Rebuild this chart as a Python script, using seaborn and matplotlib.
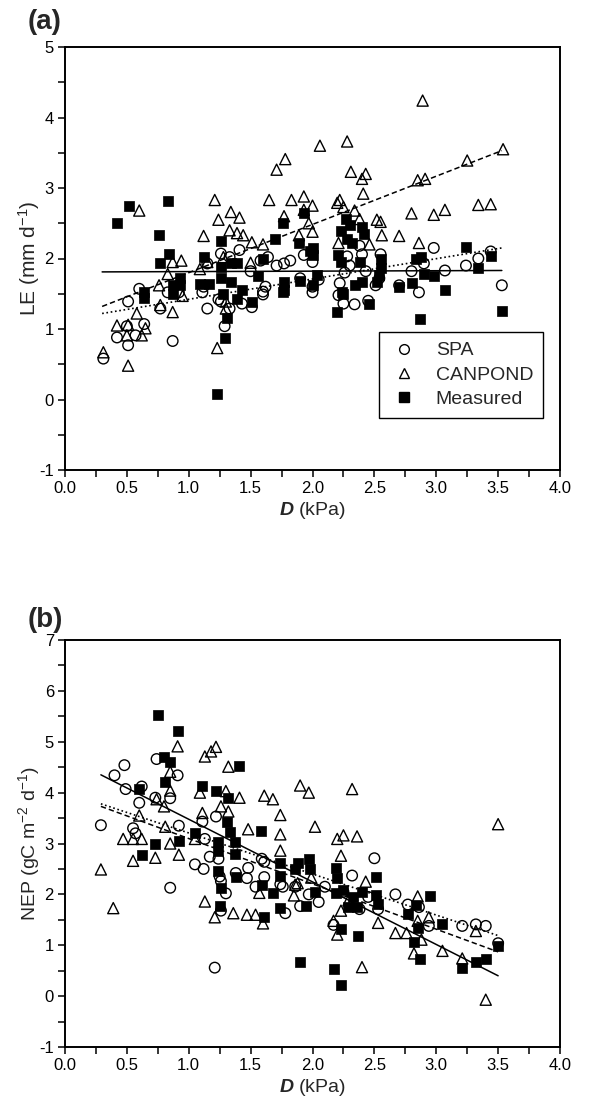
import numpy as np
import pandas as pd
import matplotlib
matplotlib.use("Agg")
import matplotlib.pyplot as plt
import seaborn as sns
from matplotlib.ticker import MultipleLocator, FormatStrFormatter
from matplotlib.lines import Line2D

# ---------------- data: panel (a) LE ----------------
spa_a_x = [0.31,0.42,0.50,0.51,0.51,0.57,0.60,0.64,0.77,0.83,0.87,0.92,1.11,1.12,1.15,1.15,1.24,1.26,1.26,1.29,
           1.33,1.33,1.41,1.43,1.50,1.51,1.58,1.60,1.60,1.62,1.64,1.71,1.77,1.82,1.90,1.93,2.00,2.00,2.00,2.05,
           2.21,2.22,2.25,2.26,2.28,2.30,2.34,2.38,2.40,2.43,2.45,2.51,2.54,2.55,2.70,2.80,2.86,2.90,2.98,3.07,
           3.24,3.34,3.44,3.53]
spa_a_y = [0.58,0.88,1.04,0.77,1.39,0.91,1.57,1.07,1.29,1.52,0.83,1.52,1.52,1.60,1.29,1.93,1.42,1.39,2.07,1.04,
           1.29,2.02,2.12,1.36,1.82,1.31,1.97,1.49,1.53,1.60,2.02,1.90,1.93,1.97,1.72,2.05,1.95,1.60,1.52,1.70,
           1.48,1.65,1.36,1.80,2.03,1.90,1.35,2.18,2.06,1.82,1.40,1.62,1.72,2.06,1.62,1.82,1.52,1.93,2.15,1.83,
           1.90,2.00,2.10,1.62]
can_a_x = [0.31,0.42,0.50,0.51,0.51,0.58,0.60,0.62,0.65,0.76,0.77,0.83,0.87,0.87,0.94,0.95,1.09,1.12,1.15,1.21,
           1.23,1.24,1.28,1.30,1.30,1.33,1.34,1.39,1.41,1.44,1.50,1.51,1.60,1.65,1.71,1.77,1.78,1.83,1.89,1.93,
           1.93,1.97,2.00,2.00,2.06,2.20,2.21,2.22,2.25,2.28,2.31,2.34,2.38,2.40,2.41,2.43,2.46,2.52,2.55,2.56,
           2.70,2.80,2.85,2.86,2.89,2.91,2.98,3.07,3.25,3.34,3.44,3.54]
can_a_y = [0.67,1.05,0.91,1.06,0.48,1.22,2.68,0.91,1.01,1.62,1.34,1.78,1.24,1.95,1.97,1.47,1.85,2.32,1.95,2.83,
           0.73,2.55,2.02,1.39,1.29,2.40,2.66,2.36,2.58,2.33,1.94,2.23,2.20,2.83,3.26,2.60,3.41,2.83,2.33,2.88,
           2.69,2.50,2.75,2.38,3.60,2.79,2.22,2.83,2.73,3.66,3.23,2.68,2.56,3.13,2.92,3.20,2.20,2.55,2.52,2.33,
           2.32,2.64,3.11,2.22,4.24,3.13,2.62,2.69,3.39,2.76,2.77,3.55]
mea_a_x = [0.42,0.52,0.64,0.64,0.76,0.77,0.83,0.84,0.87,0.87,0.93,0.93,1.09,1.12,1.16,1.23,1.26,1.26,1.26,1.28,
           1.29,1.31,1.34,1.34,1.39,1.39,1.43,1.51,1.56,1.60,1.70,1.76,1.76,1.77,1.77,1.89,1.90,1.93,1.98,2.00,
           2.00,2.00,2.04,2.20,2.21,2.23,2.23,2.24,2.25,2.27,2.28,2.30,2.32,2.34,2.38,2.40,2.40,2.42,2.46,2.52,
           2.54,2.55,2.55,2.70,2.80,2.84,2.87,2.88,2.90,2.98,3.07,3.24,3.34,3.44,3.53]
mea_a_y = [2.50,2.74,1.52,1.44,2.33,1.93,2.81,2.06,1.62,1.49,1.72,1.62,1.64,2.02,1.64,0.08,2.25,1.88,1.72,1.50,
           0.87,1.15,1.93,1.67,1.93,1.42,1.55,1.39,1.75,2.00,2.27,2.50,1.52,1.67,1.55,2.22,1.68,2.65,2.10,2.15,
           2.05,1.62,1.77,1.24,2.05,2.39,1.95,1.52,1.49,2.56,2.27,2.48,2.22,1.62,1.95,2.45,1.67,2.35,1.36,1.67,
           1.77,2.00,1.87,1.60,1.65,2.00,1.14,2.02,1.78,1.75,1.55,2.17,1.87,2.04,1.25]
# fitted lines (end points)
fit_a_x = [0.30, 3.53]
fit_a_mea = [1.81, 1.83]
fit_a_can = [1.32, 3.53]
fit_a_spa = [1.22, 2.15]

# ---------------- data: panel (b) NEP ----------------
spa_b_x = [0.29,0.40,0.48,0.49,0.55,0.57,0.60,0.62,0.73,0.74,0.85,0.85,0.91,0.92,1.05,1.11,1.12,1.13,1.17,1.21,
           1.22,1.24,1.25,1.26,1.26,1.30,1.38,1.47,1.48,1.54,1.59,1.61,1.61,1.74,1.76,1.78,1.86,1.90,1.97,2.05,
           2.10,2.17,2.25,2.32,2.38,2.45,2.50,2.53,2.67,2.77,2.86,2.94,3.21,3.32,3.40,3.50]
spa_b_y = [3.36,4.34,4.54,4.07,3.30,3.20,3.80,4.12,3.90,4.66,3.89,2.13,4.34,3.35,2.59,3.43,2.50,3.09,2.74,0.56,
           3.53,2.70,2.35,2.26,1.68,2.02,2.42,2.32,2.52,2.15,2.70,2.64,2.34,2.20,2.15,1.63,2.15,1.77,2.00,1.85,
           2.15,1.40,2.05,2.37,1.71,1.95,2.71,1.71,2.00,1.80,1.75,1.38,1.38,1.41,1.38,1.04]
can_b_x = [0.29,0.39,0.47,0.55,0.55,0.60,0.62,0.73,0.74,0.80,0.81,0.85,0.85,0.85,0.91,0.92,1.05,1.09,1.11,1.13,
           1.13,1.18,1.21,1.22,1.26,1.30,1.32,1.32,1.36,1.41,1.47,1.48,1.54,1.57,1.60,1.61,1.68,1.74,1.74,1.74,
           1.85,1.86,1.88,1.90,1.97,1.99,2.02,2.17,2.20,2.20,2.23,2.23,2.25,2.29,2.32,2.36,2.40,2.43,2.53,2.67,
           2.76,2.82,2.85,2.85,2.88,2.94,3.05,3.21,3.32,3.40,3.50]
can_b_y = [2.49,1.73,3.09,3.09,2.66,3.55,3.09,2.72,3.87,3.73,3.33,4.41,4.04,3.00,4.91,2.78,3.09,4.00,3.60,4.71,
           1.86,4.81,1.55,4.90,3.73,4.03,4.51,3.63,1.63,3.90,1.60,3.28,1.60,2.03,1.43,3.94,3.87,3.56,3.18,2.86,
           1.98,2.19,2.22,4.14,4.00,2.33,3.33,1.48,3.09,1.21,2.76,1.68,3.16,1.88,4.07,3.14,0.57,2.25,1.44,1.24,
           1.24,0.84,1.96,1.48,1.11,1.55,0.89,0.74,1.28,-0.07,3.38]
mea_b_x = [0.60,0.62,0.73,0.75,0.80,0.81,0.85,0.91,0.92,1.05,1.11,1.22,1.24,1.24,1.24,1.25,1.26,1.31,1.32,1.33,
           1.37,1.37,1.38,1.41,1.58,1.59,1.61,1.68,1.74,1.74,1.74,1.86,1.88,1.90,1.95,1.97,1.98,2.02,2.17,2.19,
           2.19,2.20,2.23,2.23,2.25,2.29,2.33,2.36,2.37,2.40,2.51,2.51,2.53,2.77,2.82,2.84,2.85,2.87,2.95,3.05,
           3.21,3.32,3.40,3.50]
mea_b_y = [4.07,2.78,3.00,5.52,4.70,4.21,4.60,5.22,3.04,3.20,4.13,4.03,3.03,2.86,2.46,1.78,2.12,3.43,3.90,3.23,
           3.03,2.79,2.34,4.53,3.24,2.18,1.56,2.02,2.61,2.37,1.73,2.49,2.62,0.67,1.78,2.69,2.49,2.05,0.53,2.52,
           2.02,2.32,1.31,0.21,2.09,1.75,1.95,1.75,1.19,2.05,2.34,1.98,1.81,1.61,1.07,1.80,1.34,0.73,1.97,1.41,
           0.55,0.67,0.72,0.99]
fit_b_x = [0.29, 3.50]
fit_b_mea = [4.35, 0.40]
fit_b_can = [3.73, 0.87]
fit_b_spa = [3.78, 1.19]

series_names = ["SPA", "CANPOND", "Measured"]
x_ticks = [0.0, 0.5, 1.0, 1.5, 2.0, 2.5, 3.0, 3.5, 4.0]

# ---------------- style ----------------
sns.set_theme(style="ticks")
plt.rcParams["font.family"] = ["Liberation Sans", "DejaVu Sans"]
plt.rcParams["mathtext.fontset"] = "custom"
plt.rcParams["mathtext.rm"] = "Liberation Sans"
plt.rcParams["mathtext.it"] = "Liberation Sans:italic"
plt.rcParams["mathtext.bf"] = "Liberation Sans:bold"
plt.rcParams["mathtext.bfit"] = "Liberation Sans:bold:italic"
plt.rcParams["axes.unicode_minus"] = False

W, H = 601, 1101
fig = plt.figure(figsize=(W / 100, H / 100), dpi=100)
L, R = 65, 560
ax_a = fig.add_axes([L / W, 1 - 470 / H, (R - L) / W, 423 / H])
ax_b = fig.add_axes([L / W, 1 - 1047 / H, (R - L) / W, 407 / H])

circ = dict(marker="o", s=58, facecolor="none", edgecolor="black", linewidth=1.0)
tri = dict(marker="^", s=64, facecolor="none", edgecolor="black", linewidth=1.0)
sq = dict(marker="s", s=44, color="black", edgecolor="black", linewidth=0.5)


def panel(ax, sx, sy, cx, cy, mx, my, fx, fm, fc, fs):
    sns.scatterplot(x=sx, y=sy, ax=ax, zorder=3, **circ)
    sns.scatterplot(x=cx, y=cy, ax=ax, zorder=3, **tri)
    sns.scatterplot(x=mx, y=my, ax=ax, zorder=2, **sq)
    sns.lineplot(x=fx, y=fm, ax=ax, color="black", linewidth=1.1, linestyle="-", zorder=4)
    sns.lineplot(x=fx, y=fc, ax=ax, color="black", linewidth=1.1, linestyle=(0, (3.5, 2)), zorder=4)
    sns.lineplot(x=fx, y=fs, ax=ax, color="black", linewidth=1.2, linestyle=(0, (1, 1.6)), zorder=4)
    ax.set_xlim(0, 4)
    ax.set_xticks(x_ticks)
    ax.xaxis.set_major_formatter(FormatStrFormatter("%.1f"))
    ax.xaxis.set_minor_locator(MultipleLocator(0.25))
    ax.yaxis.set_major_locator(MultipleLocator(1))
    ax.yaxis.set_minor_locator(MultipleLocator(0.5))
    ax.tick_params(which="both", direction="out", length=5, width=1.1, color="black",
                   top=False, right=False)
    ax.tick_params(which="major", labelsize=12, pad=3, labelcolor="black")
    for s in ax.spines.values():
        s.set_linewidth(1.4)
        s.set_color("black")
    ax.set_xlabel(r"$\mathbfit{D}$ (kPa)", fontsize=14, labelpad=3)


panel(ax_a, spa_a_x, spa_a_y, can_a_x, can_a_y, mea_a_x, mea_a_y,
      fit_a_x, fit_a_mea, fit_a_can, fit_a_spa)
ax_a.set_ylim(-1, 5)
ax_a.set_ylabel(r"LE (mm d$^{\mathregular{-1}}$)", fontsize=15, labelpad=-2)

panel(ax_b, spa_b_x, spa_b_y, can_b_x, can_b_y, mea_b_x, mea_b_y,
      fit_b_x, fit_b_mea, fit_b_can, fit_b_spa)
ax_b.set_ylim(-1, 7)
ax_b.set_ylabel(r"NEP (gC m$^{\mathregular{-2}}$ d$^{\mathregular{-1}}$)", fontsize=14, labelpad=-2)

handles = [
    Line2D([], [], marker="o", linestyle="none", markerfacecolor="none", markeredgecolor="black", markersize=7),
    Line2D([], [], marker="^", linestyle="none", markerfacecolor="none", markeredgecolor="black", markersize=7),
    Line2D([], [], marker="s", linestyle="none", markerfacecolor="black", markeredgecolor="black", markersize=6.5),
]
leg = ax_a.legend(handles, series_names, loc="lower right", bbox_to_anchor=(0.985, 0.10),
                  fontsize=14, frameon=True, fancybox=False, framealpha=1, edgecolor="black",
                  handletextpad=0.9, borderpad=0.5, labelspacing=0.35, handlelength=1.5)
leg.get_frame().set_linewidth(1.0)

fig.text(28 / W, 1 - 22 / H, "(a)", fontsize=20, fontweight="bold", va="center", ha="left")
fig.text(28 / W, 1 - 620 / H, "(b)", fontsize=20, fontweight="bold", va="center", ha="left")

fig.savefig("out.png", dpi=100, facecolor="white")
